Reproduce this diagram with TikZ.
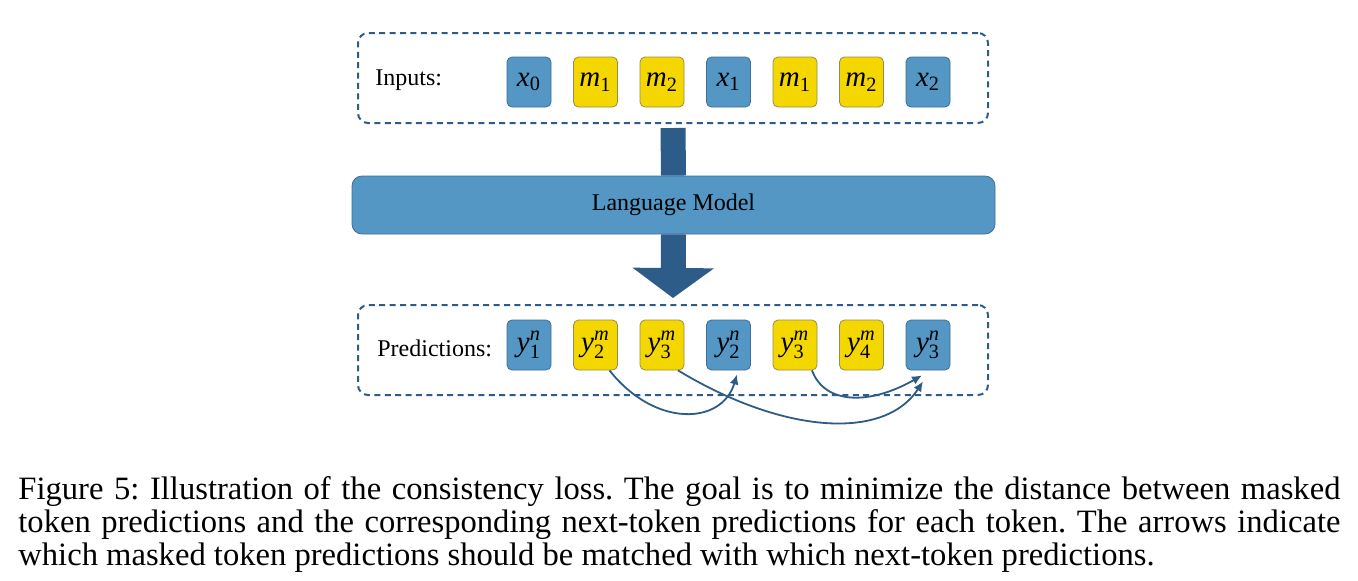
\documentclass[tikz,border=0pt]{standalone}
\usepackage{amsmath}
\usepackage{fontspec}
\setmainfont{Liberation Serif}
\usetikzlibrary{arrows.meta, positioning}
\definecolor{tokblue}{RGB}{84,150,196}
\definecolor{tokedge}{RGB}{62,110,152}
\definecolor{tokyellow}{RGB}{245,215,0}
\definecolor{yeledge}{RGB}{150,140,80}
\definecolor{darkline}{RGB}{46,92,136}
\newcommand{\tx}[2]{$\textit{#1}_{\text{#2}}$}
\newcommand{\ty}[3]{$\textit{#1}^{\textit{#2}}_{\text{#3}}$}
\tikzset{
  bluetok/.style={rectangle, rounded corners=2.5pt, draw=tokedge, fill=tokblue, minimum width=22pt, minimum height=25pt, inner sep=0pt, font=\fontsize{14.5}{14.5}\selectfont},
  yellowtok/.style={bluetok, draw=yeledge, fill=tokyellow},
  group/.style={rectangle, rounded corners=5pt, draw=darkline, line width=1pt, dash pattern=on 3pt off 2.2pt, minimum width=315pt, minimum height=45pt},
  match/.style={draw=darkline, line width=0.9pt, -{Latex[length=5pt,width=4.5pt]}},
}

\begin{document}
\begin{tikzpicture}[x=0.5pt, y=-0.5pt]
    \useasboundingbox (0,0) rectangle (1358,580);
    % input row
    \node (inbox) at (673,78) [group] {};
    \node (inlabel) at (375,80) [anchor=west, inner sep=0pt, font=\fontsize{12}{14}\selectfont] {Inputs:};
    \node (in1) at (529,82)   [bluetok]   {\tx{x}{0}};
    \node (in2) at (595.5,82) [yellowtok] {\tx{m}{1}};
    \node (in3) at (662,82)   [yellowtok] {\tx{m}{2}};
    \node (in4) at (728.5,82) [bluetok]   {\tx{x}{1}};
    \node (in5) at (795,82)   [yellowtok] {\tx{m}{1}};
    \node (in6) at (861.5,82) [yellowtok] {\tx{m}{2}};
    \node (in7) at (928,82)   [bluetok]   {\tx{x}{2}};
    % model
    \node (lm) at (673.5,205) [rectangle, rounded corners=5pt, draw=tokedge, fill=tokblue, minimum width=321.5pt, minimum height=29pt, font=\fontsize{12}{14}\selectfont] {Language Model};
    \draw[darkline, line width=12.5pt] ([yshift=-2pt]inbox.south) -- (lm.north);
    \draw[darkline, line width=12.5pt, -{Triangle[length=15pt,width=40pt]}] (lm.south) -- ([yshift=3.5pt]inbox.south |- 0,305);
    % prediction row
    \node (predbox) at (673,350) [group] {};
    \node (predlabel) at (377,348) [anchor=west, inner sep=0pt, font=\fontsize{12}{14}\selectfont] {Predictions:};
    \node (p1) at (529,345)   [bluetok]   {\ty{y}{n}{1}};
    \node (p2) at (595.5,345) [yellowtok] {\ty{y}{m}{2}};
    \node (p3) at (662,345)   [yellowtok] {\ty{y}{m}{3}};
    \node (p4) at (728.5,345) [bluetok]   {\ty{y}{n}{2}};
    \node (p5) at (795,345)   [yellowtok] {\ty{y}{m}{3}};
    \node (p6) at (861.5,345) [yellowtok] {\ty{y}{m}{4}};
    \node (p7) at (928,345)   [bluetok]   {\ty{y}{n}{3}};
    % matching arrows
    \draw[match] ([xshift=7pt]p2.south) .. controls (655,428) and (722,425) .. ([xshift=4.25pt,yshift=-2pt]p4.south);
    \draw[match] ([xshift=8pt]p3.south) .. controls (785,435) and (885,440) .. ([xshift=-2.5pt,yshift=-5.5pt]p7.south);
    \draw[match] ([xshift=8.5pt]p5.south) .. controls (825,405) and (870,405) .. ([xshift=-3pt,yshift=-2.5pt]p7.south);
    % caption
    \node (caption) at (18,476) [anchor=north west, inner sep=0pt, text width=661pt, align=justify, font=\fontsize{16.3}{16.5}\selectfont] {\frenchspacing Figure 5: Illustration of the consistency loss. The goal is to minimize the distance between masked\linebreak token predictions and the corresponding next-token predictions for each token. The arrows indicate\linebreak which masked token predictions should be matched with which next-token predictions.};
\end{tikzpicture}
\end{document}
